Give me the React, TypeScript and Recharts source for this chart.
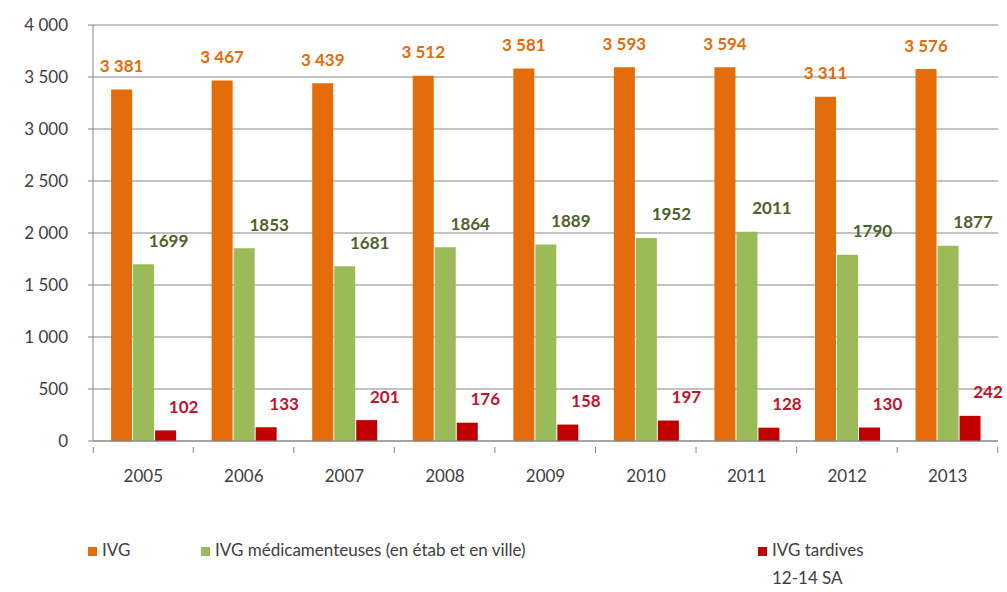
import React from 'react';
import { BarChart, Bar, XAxis, YAxis, CartesianGrid, LabelList } from 'recharts';

const years = ['2005', '2006', '2007', '2008', '2009', '2010', '2011', '2012', '2013'];
const ivg = [3381, 3467, 3439, 3512, 3581, 3593, 3594, 3311, 3576];
const ivgMedic = [1699, 1853, 1681, 1864, 1889, 1952, 2011, 1790, 1877];
const ivgTardives = [102, 133, 201, 176, 158, 197, 128, 130, 242];
const yTicks = [0, 500, 1000, 1500, 2000, 2500, 3000, 3500, 4000];

const data = years.map((year, i) => ({
  year,
  ivg: ivg[i],
  medic: ivgMedic[i],
  tardives: ivgTardives[i],
}));

const FONT = 'Lato, "Open Sans", sans-serif';

const fmtSpace = (v: number) => String(v).replace(/\B(?=(\d{3})+(?!\d))/g, ' ');

const makeLabel = (color: string, dx: number, spaced: boolean) => (props: any) => {
  const { x, y, width, value } = props;
  return (
    <text
      x={x + width / 2 + dx}
      y={y - 24}
      fill={color}
      textAnchor="middle"
      dominantBaseline="central"
      fontFamily={FONT}
      fontWeight={700}
      fontSize={17}
    >
      {spaced ? fmtSpace(value) : value}
    </text>
  );
};

const XTick = (props: any) => {
  const { x, y, payload } = props;
  return (
    <g>
      <line x1={x + 50} x2={x + 50} y1={y - 30} y2={y - 24} stroke="#868686" />
      {payload.index === 0 && <line x1={x - 50} x2={x - 50} y1={y - 30} y2={y - 24} stroke="#868686" />}
      <text x={x} y={y - 2} textAnchor="middle" dominantBaseline="central" fill="#404040" fontFamily={FONT} fontSize={17}>
        {payload.value}
      </text>
    </g>
  );
};

const legendItems = [
  { label: 'IVG', color: '#E46C0A', left: 88 },
  { label: 'IVG médicamenteuses (en étab et en ville)', color: '#9BBB59', left: 201 },
  { label: 'IVG tardives', second: '12-14 SA', color: '#C00000', left: 758 },
];

const ChartLegend = () => (
  <div style={{ position: 'absolute', left: 0, top: 535, width: 1007, fontFamily: FONT, fontSize: 17, color: '#404040' }}>
    {legendItems.map((it) => (
      <div key={it.label} style={{ position: 'absolute', left: it.left, top: 0, lineHeight: '30px' }}>
        <span style={{ display: 'inline-block', width: 9, height: 9, background: it.color, marginRight: 5 }} />
        {it.label}
        {it.second && <div style={{ paddingLeft: 14, lineHeight: '26px' }}>{it.second}</div>}
      </div>
    ))}
  </div>
);

export default function App() {
  return (
    <div style={{ position: 'absolute', left: 0, top: 0, width: 1007, height: 592, background: '#fff' }}>
      <BarChart
        width={1007}
        height={592}
        data={data}
        margin={{ top: 25, right: 9, left: 0, bottom: 0 }}
        barCategoryGap="18%"
        barGap={1}
      >
        <CartesianGrid vertical={false} stroke="#868686" />
        <XAxis
          dataKey="year"
          tick={<XTick />}
          tickLine={false}
          axisLine={{ stroke: '#868686' }}
          height={151}
          tickMargin={30}
          interval={0}
        />
        <YAxis
          domain={[0, 4000]}
          ticks={yTicks}
          width={93}
          tickSize={5}
          tickMargin={20}
          tickLine={{ stroke: '#868686' }}
          axisLine={{ stroke: '#868686' }}
          tickFormatter={fmtSpace}
          tick={{ fill: '#404040', fontFamily: FONT, fontSize: 17 }}
        />
        <Bar dataKey="ivg" name="IVG" fill="#E46C0A" isAnimationActive={false}>
          <LabelList dataKey="ivg" content={makeLabel('#E46C0A', 0, true)} />
        </Bar>
        <Bar dataKey="medic" name="IVG médicamenteuses (en étab et en ville)" fill="#9BBB59" isAnimationActive={false}>
          <LabelList dataKey="medic" content={makeLabel('#4F6228', 25, false)} />
        </Bar>
        <Bar dataKey="tardives" name="IVG tardives 12-14 SA" fill="#C00000" isAnimationActive={false}>
          <LabelList dataKey="tardives" content={makeLabel('#C0142C', 18, false)} />
        </Bar>
      </BarChart>
      <ChartLegend />
    </div>
  );
}
